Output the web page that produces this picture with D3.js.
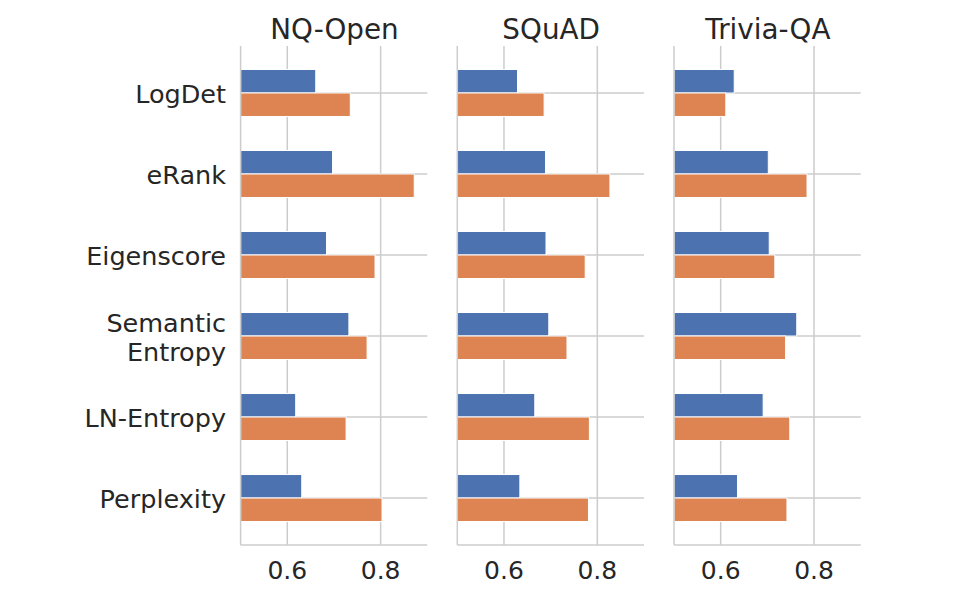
<!DOCTYPE html>
<html>
<head>
<meta charset="utf-8">
<script src="https://cdn.jsdelivr.net/npm/d3@7"></script>
<style>
  body { margin: 0; background: #fff; }
  text { font-family: "DejaVu Sans", sans-serif; fill: #262626; }
</style>
</head>
<body>
<svg id="chart" width="955" height="605"></svg>
<script>
const methods = ["LogDet", "eRank", "Eigenscore", "Semantic Entropy", "LN-Entropy", "Perplexity"];
const datasets = ["NQ-Open", "SQuAD", "Trivia-QA"];
const ticks = [0.6, 0.8];

// first series (blue) and second series (orange), one array per dataset
const blueNQ = [0.661, 0.697, 0.684, 0.732, 0.618, 0.631];
const orangeNQ = [0.735, 0.872, 0.788, 0.771, 0.726, 0.803];
const blueSQ = [0.629, 0.689, 0.690, 0.696, 0.666, 0.634];
const orangeSQ = [0.686, 0.827, 0.774, 0.735, 0.783, 0.781];
const blueTQ = [0.629, 0.702, 0.704, 0.763, 0.691, 0.636];
const orangeTQ = [0.611, 0.785, 0.716, 0.739, 0.748, 0.742];

const blues = [blueNQ, blueSQ, blueTQ];
const oranges = [orangeNQ, orangeSQ, orangeTQ];

const svg = d3.select("#chart");
const plotTop = 46, plotBottom = 545;
const panelLeft = [240.6, 457.3, 674];
const panelW = 186.7;
const gridColor = "#cccccc";

const y = d3.scaleBand()
  .domain(methods)
  .range([plotTop, plotBottom])
  .paddingInner(0)
  .paddingOuter(0.08);

const barH = y.step() * 0.29;

datasets.forEach((name, i) => {
  const x = d3.scaleLinear().domain([0.5, 0.9]).range([0, panelW]);
  const g = svg.append("g").attr("transform", `translate(${panelLeft[i]},0)`);

  // vertical grid
  g.selectAll(".vgrid").data(ticks).enter().append("line")
    .attr("x1", d => x(d)).attr("x2", d => x(d))
    .attr("y1", plotTop).attr("y2", plotBottom)
    .attr("stroke", gridColor).attr("stroke-width", 1.5);

  // horizontal grid at category centers
  g.selectAll(".hgrid").data(methods).enter().append("line")
    .attr("x1", 0).attr("x2", panelW)
    .attr("y1", d => y(d) + y.bandwidth() / 2).attr("y2", d => y(d) + y.bandwidth() / 2)
    .attr("stroke", gridColor).attr("stroke-width", 1.5);

  const rows = methods.map((m, j) => ({ m, b: blues[i][j], o: oranges[i][j] }));

  g.selectAll(".blue").data(rows).enter().append("rect")
    .attr("x", x(0.5))
    .attr("y", d => y(d.m) + y.bandwidth() / 2 - barH)
    .attr("width", d => x(d.b) - x(0.5))
    .attr("height", barH)
    .attr("fill", "#4c72b0")
    .attr("stroke", "#fff").attr("stroke-width", 1);

  g.selectAll(".orange").data(rows).enter().append("rect")
    .attr("x", x(0.5))
    .attr("y", d => y(d.m) + y.bandwidth() / 2)
    .attr("width", d => x(d.o) - x(0.5))
    .attr("height", barH)
    .attr("fill", "#dd8452")
    .attr("stroke", "#fff").attr("stroke-width", 1);

  // spines
  g.append("line").attr("x1", 0).attr("x2", 0).attr("y1", plotTop).attr("y2", plotBottom)
    .attr("stroke", gridColor).attr("stroke-width", 1.5);
  g.append("line").attr("x1", 0).attr("x2", panelW).attr("y1", plotBottom).attr("y2", plotBottom)
    .attr("stroke", gridColor).attr("stroke-width", 1.5);

  // x tick labels
  g.selectAll(".tl").data(ticks).enter().append("text")
    .attr("x", d => x(d)).attr("y", 578.5)
    .attr("text-anchor", "middle")
    .attr("font-size", 25)
    .text(d => d3.format(".1f")(d));

  // title
  g.append("text")
    .attr("x", panelW / 2 + 0.5).attr("y", 38.5)
    .attr("text-anchor", "middle")
    .attr("font-size", 27.8)
    .text(name);
});

// y labels
methods.forEach(m => {
  const cy = y(m) + y.bandwidth() / 2;
  const parts = m.split(" ");
  const lh = 29;
  const t = svg.append("text")
    .attr("text-anchor", "end")
    .attr("font-size", 25.5);
  parts.forEach((p, k) => {
    t.append("tspan")
      .attr("x", 226)
      .attr("y", cy + 10 + (k - (parts.length - 1) / 2) * lh)
      .text(p);
  });
});
</script>
</body>
</html>
